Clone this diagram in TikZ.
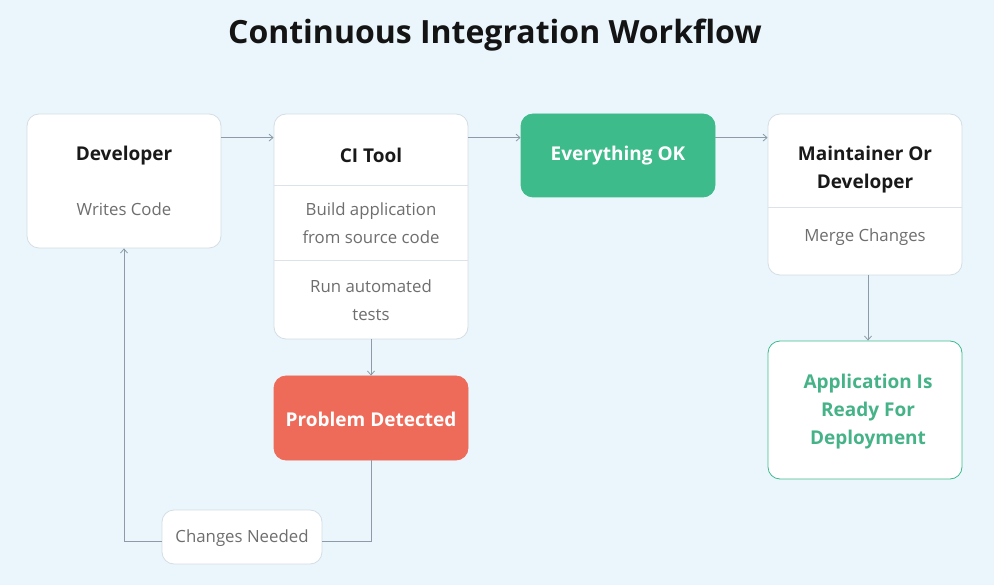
\documentclass[tikz,border=0pt]{standalone}
\usepackage{fontspec}
\setmainfont{Open Sans}
\usetikzlibrary{arrows.meta}
\definecolor{bgcol}{HTML}{EAF6FC}
\definecolor{bordercol}{HTML}{D5DEE5}
\definecolor{divcol}{HTML}{DCE3E8}
\definecolor{linecol}{HTML}{8C9BA7}
\definecolor{okgreen}{HTML}{3DBB8B}
\definecolor{txtgreen}{HTML}{45B387}
\definecolor{probred}{HTML}{EE6B5A}
\definecolor{bodygray}{HTML}{6E6E6E}
\tikzset{
  box/.style={draw=bordercol, line width=0.8pt, fill=white, rounded corners=12pt, inner sep=0pt, minimum width=194pt},
  ttl/.style={font=\bfseries\fontsize{19}{28}\selectfont, text=black!90, align=center, inner sep=0pt},
  body/.style={font=\fontsize{16.8}{28}\selectfont, text=bodygray, align=center, inner sep=0pt},
  divider/.style={draw=divcol, line width=0.8pt},
  conn/.style={draw=linecol, line width=1pt},
  arr/.style={conn, -{Straight Barb[length=4pt,width=7pt,line width=0.8pt]}},
}
\begin{document}
\begin{tikzpicture}[x=1pt,y=-1pt]
\useasboundingbox[fill=bgcol] (0,0) rectangle (994,585);
\node[font=\bfseries\fontsize{32}{38}\selectfont, text=black!92, inner sep=0pt] (title) at (495,35) {Continuous Integration Workflow};

% Developer
\node[box, minimum height=134pt] (dev) at (124,181) {};
\node[ttl] (devt) at (124,156) {Developer};
\node[body] (devb) at (124,209) {Writes Code};

% CI Tool
\node[box, minimum height=225pt] (ci) at (371,226.5) {};
\node[ttl] (cit) at (371,155) {CI Tool};
\draw[divider] (274.4,185) -- (467.6,185);
\node[body] (cib1) at (371,223) {Build application\\from source code};
\draw[divider] (274.4,260) -- (467.6,260);
\node[body] (cib2) at (371,300.5) {Run automated\\tests};

% Everything OK
\node[box, draw=okgreen, fill=okgreen, minimum height=83pt] (ok) at (618,155.5) {};
\node[ttl, text=white] (okt) at (618,156) {Everything OK};

% Maintainer
\node[box, minimum height=161pt] (mnt) at (865,194.5) {};
\node[ttl] (mntt) at (865,170) {Maintainer Or\\Developer};
\draw[divider] (768.4,207) -- (961.6,207);
\node[body] (mntb) at (865,237) {Merge Changes};

% Application ready
\node[box, draw=okgreen, minimum height=138pt] (app) at (865,410) {};
\node[ttl, text=txtgreen] (appt) at (868,412) {Application Is\\Ready For\\Deployment};

% Problem detected
\node[box, draw=probred, fill=probred, minimum height=84pt] (prob) at (371,418) {};
\node[ttl, text=white] (probt) at (371,419) {Problem Detected};

% Changes needed
\node[box, minimum width=160pt, minimum height=54pt] (chg) at (242,537) {};
\node[body] (chgt) at (242,538) {Changes Needed};

% connectors
\draw[arr] ([yshift=-24pt]dev.north east) -- ([yshift=-24pt]ci.north west);
\draw[arr] ([yshift=-24pt]ci.north east) -- ([yshift=-24pt]ok.north west);
\draw[arr] ([yshift=-24pt]ok.north east) -- ([yshift=-24pt]mnt.north west);
\draw[arr] ([xshift=3pt]mnt.south) -- ([xshift=3pt]app.north);
\draw[arr] (ci.south) -- (prob.north);
\draw[conn] (prob.south) |- ([yshift=-4pt]chg.east);
\draw[arr] ([yshift=-4pt]chg.west) -| (dev.south);
\end{tikzpicture}
\end{document}
